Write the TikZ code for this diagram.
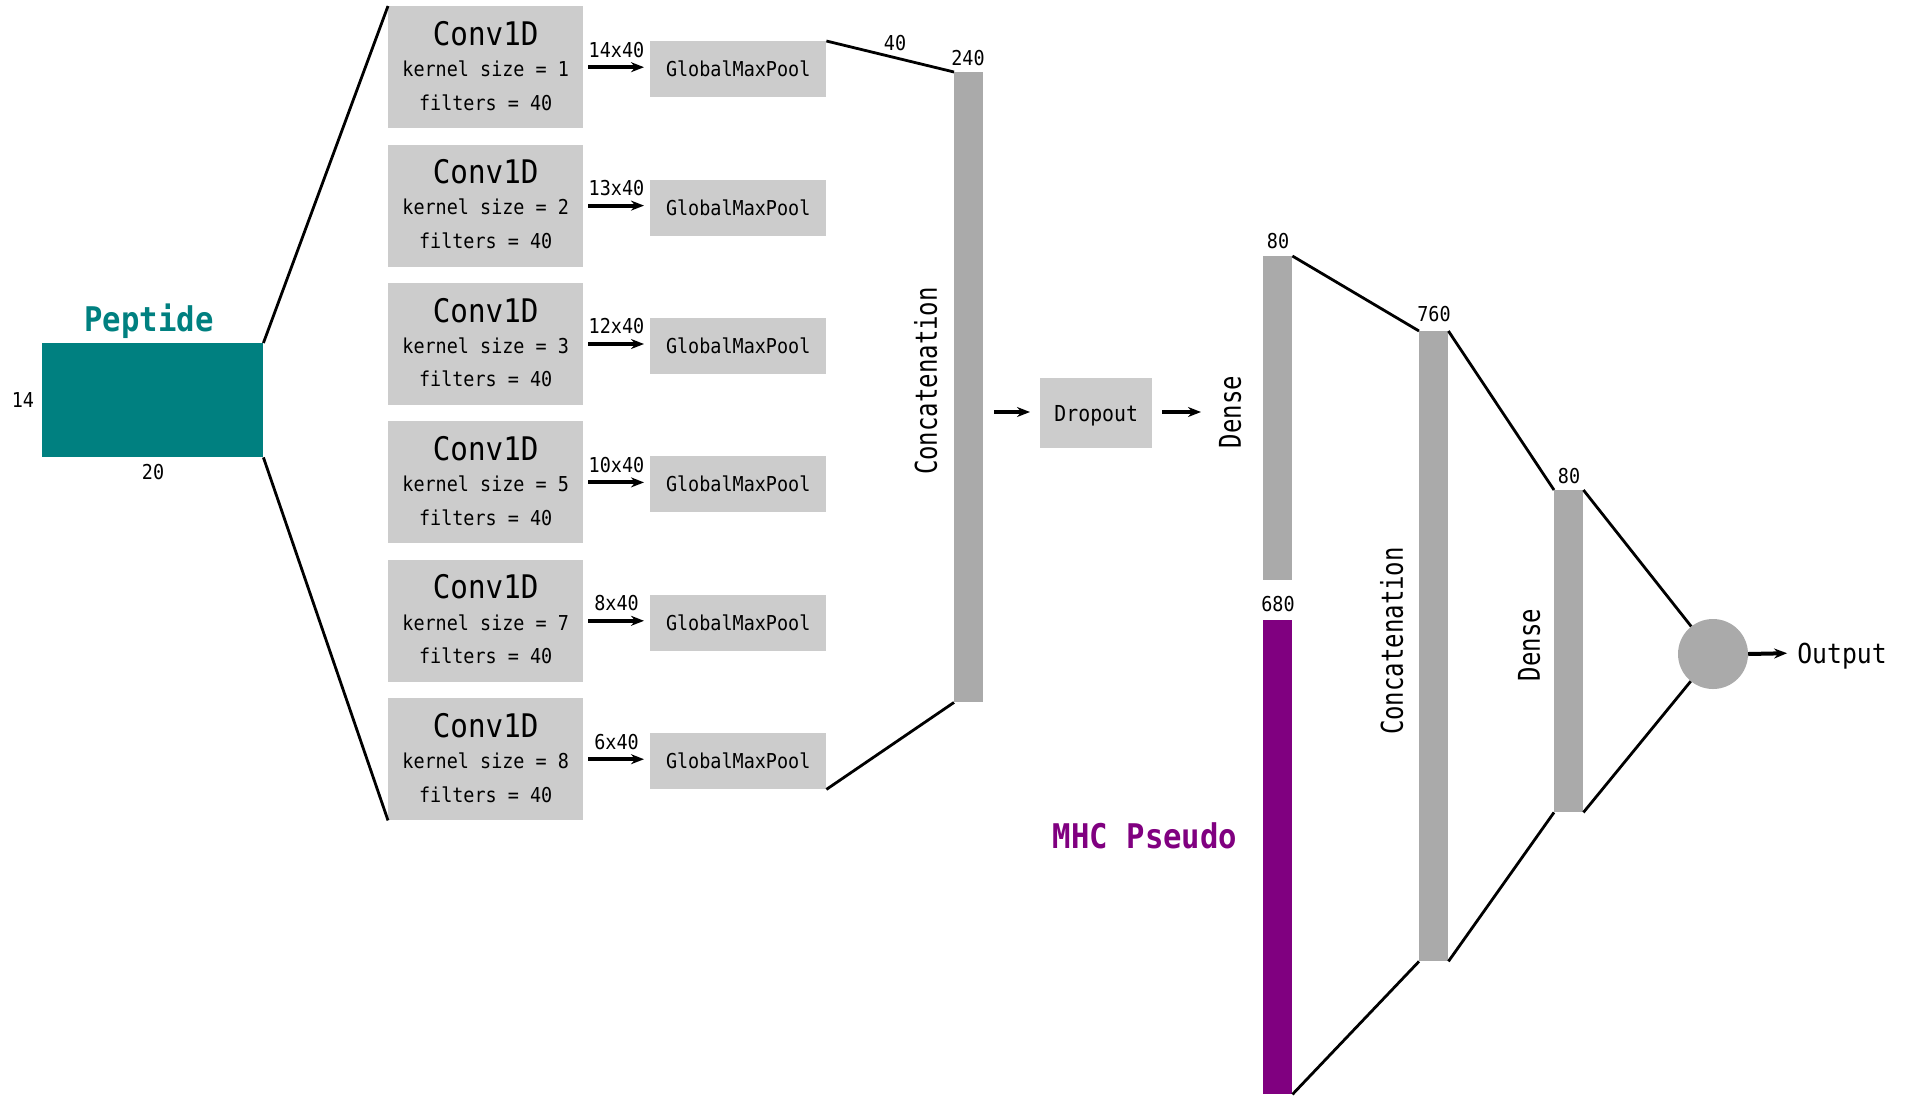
\documentclass[tikz,border=0pt]{standalone}
\usepackage{fontspec}
\usetikzlibrary{arrows.meta,calc}
% condensed monospaced faces used throughout
\newfontfamily\monof[FakeStretch=0.9]{DejaVu Sans Mono}
\newfontfamily\monor[FakeStretch=0.8]{DejaVu Sans Mono}
\definecolor{boxgray}{HTML}{CCCCCC}
\definecolor{bargray}{HTML}{AAAAAA}
\definecolor{pepteal}{HTML}{008080}
\definecolor{mhcpurple}{HTML}{800080}
\begin{document}
\begin{tikzpicture}[x=1pt,y=-1pt,
  % text nodes are centred on the middle of the capital height
  txt/.style={font={\monof\fontsize{20.5}{24}\selectfont}, inner sep=0pt, text height=15pt, text depth=0pt},
  droptxt/.style={txt, font={\monof\fontsize{22}{26}\selectfont}, text height=16pt},
  bigtxt/.style={txt, font={\monof\fontsize{32.5}{38}\selectfont}, text height=23.7pt},
  outtxt/.style={txt, font={\monof\fontsize{27.5}{32}\selectfont}, text height=20pt},
  titletxt/.style={txt, font={\monof\bfseries\fontsize{34}{40}\selectfont}, text height=24.8pt},
  rottxt/.style={txt, font={\monor\fontsize{30}{35}\selectfont}, text height=21.9pt, rotate=90},
  convbox/.style={fill=boxgray, minimum width=195, minimum height=122, inner sep=0pt, anchor=north west},
  poolbox/.style={fill=boxgray, minimum width=176, minimum height=56, inner sep=0pt, anchor=north west},
  bar/.style={fill=bargray, minimum width=29, inner sep=0pt, anchor=north west},
  link/.style={draw=black, line width=2.8pt},
  arr/.style={draw=black, line width=4pt, -{Stealth[length=13pt,width=10pt]}},
]
\useasboundingbox (0,0) rectangle (1910,1096);

% input peptide matrix
\node[fill=pepteal, minimum width=221, minimum height=114, inner sep=0pt, anchor=north west] (pep) at (42,343) {};
\node[titletxt, text=pepteal] (peplbl) at (149,319) {Peptide};
\node[txt] (peprows) at (23,400) {14};
\node[txt] (pepcols) at (153,472) {20};

% parallel convolution branches
\foreach \i/\k/\s in {0/1/14,1/2/13,2/3/12,3/5/10,4/7/8,5/8/6} {
  \pgfmathsetmacro\topy{6+138.4*\i}
  \pgfmathsetmacro\pooly{41+138.4*\i}
  \node[convbox] (c\i) at (388,\topy) {};
  \node[bigtxt] (ct\i) at ($(c\i.north)+(0,27.5)$) {Conv1D};
  \node[txt] (ck\i) at ($(c\i.north)+(0,63)$) {kernel size = \k};
  \node[txt] (cf\i) at ($(c\i.north)+(0,96.5)$) {filters = 40};
  \node[poolbox] (g\i) at (650,\pooly) {};
  \node[txt] (gt\i) at (g\i.center) {GlobalMaxPool};
  \draw[arr, shorten <=5pt, shorten >=6pt] (c\i.east) -- (c\i.east -| g\i.west);
  \node[txt] (cs\i) at (616.5,\topy+43.5) {\s x40};
}

% fan-out from the peptide
\draw[link] (pep.north east) -- (c0.north west);
\draw[link] (pep.south east) -- (c5.south west);

% first concatenation
\node[bar, minimum height=630] (cat1) at (954,72) {};
\node[txt] (cat1n) at (968,58) {240};
\node[txt] (pooln) at (895,43) {40};
\node[rottxt] (cat1l) at (926,381) {Concatenation};
\draw[link] (g0.north east) -- (cat1.north west);
\draw[link] (g5.south east) -- (cat1.south west);

% dropout
\node[fill=boxgray, minimum width=112, minimum height=70, inner sep=0pt, anchor=north west] (drop) at (1040,378) {};
\node[droptxt] (dropt) at (drop.center) {Dropout};
\coordinate (dropin) at (994,412);
\coordinate (dropout) at (1201,412);
\draw[arr] (dropin) -- (dropin -| 1030,0);
\draw[arr, shorten <=10pt] (drop.east |- dropout) -- (dropout);

% dense layer and MHC pseudo sequence
\node[rottxt] (dense1l) at (1230,412) {Dense};
\node[bar, minimum height=324] (dense1) at (1263,256) {};
\node[txt] (dense1n) at (1278,241) {80};
\node[fill=mhcpurple, minimum width=29, minimum height=474, inner sep=0pt, anchor=north west] (mhc) at (1263,620) {};
\node[txt] (mhcn) at (1278,604) {680};
\node[titletxt, text=mhcpurple] (mhcl) at (1145,836) {MHC Pseudo};

% second concatenation
\node[bar, minimum height=630] (cat2) at (1419,331) {};
\node[txt] (cat2n) at (1434,314) {760};
\node[rottxt] (cat2l) at (1392,641) {Concatenation};
\draw[link] (dense1.north east) -- (cat2.north west);
\draw[link] (mhc.south east) -- (cat2.south west);

% final dense layer
\node[bar, minimum height=322] (dense2) at (1554,490) {};
\node[txt] (dense2n) at (1569,476) {80};
\node[rottxt] (dense2l) at (1529,645) {Dense};
\draw[link] (cat2.north east) -- (dense2.north west);
\draw[link] (cat2.south east) -- (dense2.south west);

% output unit
\node[circle, fill=bargray, minimum size=70, inner sep=0pt] (out) at (1713,654) {};
\node[outtxt] (outl) at (1842,653) {Output};
\draw[link] (dense2.north east) -- (out);
\draw[link] (dense2.south east) -- (out);
\draw[arr, shorten >=10pt] (out.east) -- (outl.west);
\end{tikzpicture}
\end{document}
